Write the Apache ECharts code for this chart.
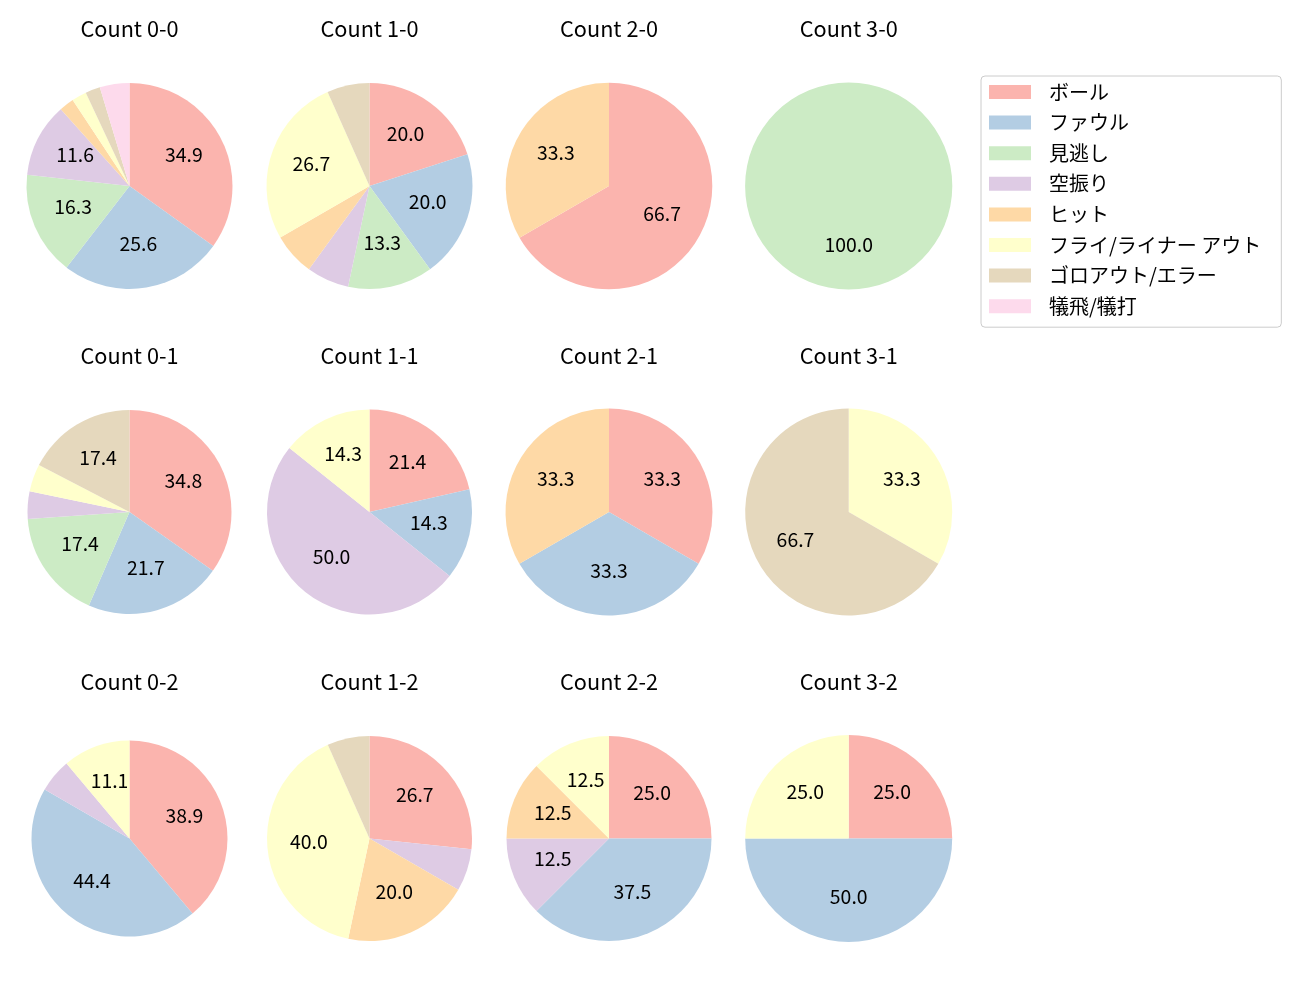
<!DOCTYPE html>
<html>
<head>
<meta charset="utf-8">
<script src="https://cdn.jsdelivr.net/npm/echarts@6/dist/echarts.min.js"></script>
<style>html,body{margin:0;padding:0;background:#fff}#chart{width:1300px;height:1000px}</style>
</head>
<body>
<div id="chart"></div>
<script>
// Categories (result types)
const categories = ['ボール', 'ファウル', '見逃し', '空振り', 'ヒット', 'フライ/ライナー アウト', 'ゴロアウト/エラー', '犠飛/犠打'];
const colors = ['#fbb4ae', '#b3cde3', '#ccebc5', '#decbe4', '#fed9a6', '#ffffcc', '#e5d8bd', '#fddaec'];

// Subplot titles
const titles = ['Count 0-0', 'Count 1-0', 'Count 2-0', 'Count 3-0',
                'Count 0-1', 'Count 1-1', 'Count 2-1', 'Count 3-1',
                'Count 0-2', 'Count 1-2', 'Count 2-2', 'Count 3-2'];

// Pitch counts per category for each ball-strike count
const c00 = [15, 11, 7, 5, 1, 1, 1, 2];
const c10 = [3, 3, 2, 1, 1, 4, 1, 0];
const c20 = [2, 0, 0, 0, 1, 0, 0, 0];
const c30 = [0, 0, 1, 0, 0, 0, 0, 0];
const c01 = [8, 5, 4, 1, 0, 1, 4, 0];
const c11 = [3, 2, 0, 7, 0, 2, 0, 0];
const c21 = [1, 1, 0, 0, 1, 0, 0, 0];
const c31 = [0, 0, 0, 0, 0, 1, 2, 0];
const c02 = [7, 8, 0, 1, 0, 2, 0, 0];
const c12 = [4, 0, 0, 1, 3, 6, 1, 0];
const c22 = [2, 3, 0, 1, 1, 1, 0, 0];
const c32 = [1, 2, 0, 0, 0, 1, 0, 0];
const allCounts = [c00, c10, c20, c30, c01, c11, c21, c31, c02, c12, c22, c32];

// Layout (pie centres and radii)
const colX = [129.5, 369.5, 609, 848.7];
const rowY = [186, 512, 838.5];
const radii = [103, 103, 103.3, 103.6, 102, 102.5, 103.5, 103.5, 98, 102.5, 102.5, 103.5];
const titleY = [29, 356, 682];
const FONT = '"Noto Sans CJK JP", "Noto Sans", sans-serif';

const series = [];
const labelSeries = [];
const graphics = [];
allCounts.forEach((vals, i) => {
  const col = i % 4, row = Math.floor(i / 4);
  const cx = colX[col], cy = rowY[row], r = radii[i];
  const sum = vals.reduce((a, b) => a + b, 0);
  const data = [];
  vals.forEach((v, k) => {
    if (v > 0) data.push({ name: categories[k], value: v, itemStyle: { color: colors[k] } });
  });
  series.push({
    type: 'pie', center: [cx, cy], radius: r, startAngle: 90, clockwise: true,
    silent: true, animation: false,
    itemStyle: { borderWidth: 0 },
    label: { show: false }, labelLine: { show: false },
    data: data
  });
  // transparent twin used only to place the percentage labels
  labelSeries.push({
    type: 'pie', center: [cx, cy - 3], radius: [0.13 * r, r], startAngle: 90, clockwise: true,
    silent: true, animation: false, legendHoverLink: false,
    itemStyle: { color: 'rgba(0,0,0,0)', borderWidth: 0 },
    label: {
      show: true, position: 'inside', color: '#000', fontFamily: FONT, fontSize: 19.4,
      formatter: (p) => {
        const pct = p.value / sum * 100;
        return pct >= 10 ? pct.toFixed(1) : '';
      }
    },
    labelLine: { show: false },
    data: data.map(d => ({ name: d.name, value: d.value }))
  });
  graphics.push({
    type: 'text', x: cx, y: titleY[row], silent: true,
    style: { text: titles[i], fill: '#000', font: '21.7px ' + FONT, textAlign: 'center', textVerticalAlign: 'middle' }
  });
});

const chart = echarts.init(document.getElementById('chart'), null, { renderer: 'canvas' });
chart.setOption({
  backgroundColor: '#fff',
  animation: false,
  legend: {
    orient: 'vertical', left: 981, top: 76,
    padding: [6, 20, 11, 8],
    borderColor: '#cccccc', borderWidth: 1, borderRadius: 4,
    itemWidth: 42, itemHeight: 14, itemGap: 10.6,
    selectedMode: false,
    icon: 'rect',
    textStyle: { fontFamily: FONT, fontSize: 20, color: '#000', lineHeight: 20, padding: [0, 0, 0, 13] },
    data: categories.map((c, k) => ({ name: c, itemStyle: { color: colors[k] } }))
  },
  graphic: graphics,
  series: series.concat(labelSeries)
});
</script>
</body>
</html>
